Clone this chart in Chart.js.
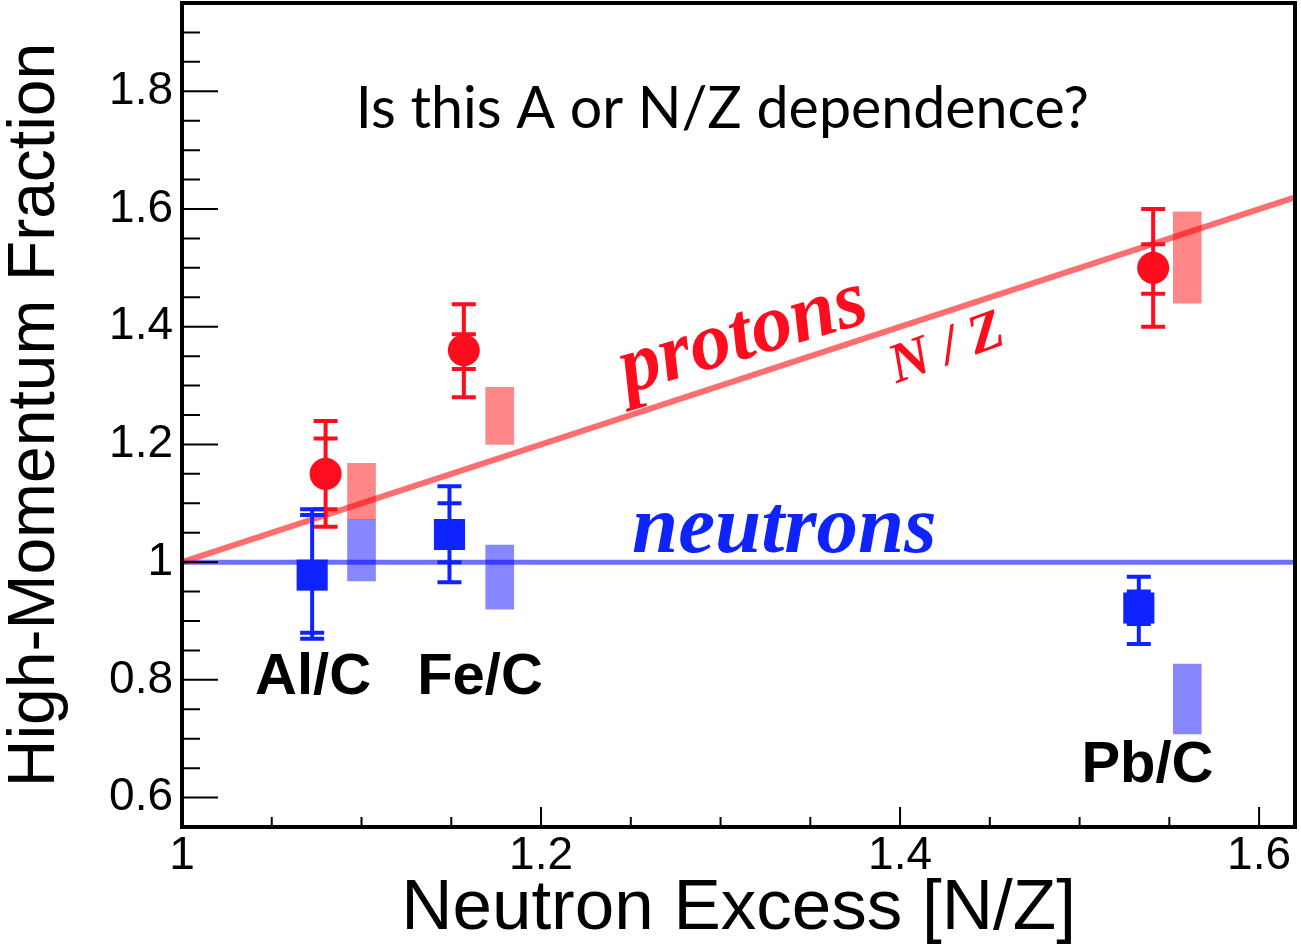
<!DOCTYPE html>
<html lang="en">
<head>
<meta charset="UTF-8">
<title>High-Momentum Fraction vs Neutron Excess</title>
<style>
  body { margin: 0; background: #fff; }
  .wrap { width: 1301px; height: 952px; position: relative; }
</style>
</head>
<body>
<div class="wrap"><canvas id="myChart"></canvas></div>
<script src="https://cdn.jsdelivr.net/npm/chart.js@4"></script>
<script>
// values
const targets = ['Al/C', 'Fe/C', 'Pb/C'];

const protonX = [1.080, 1.157, 1.541];
const protonY = [1.15, 1.36, 1.50];
const protonStatLo = [1.09, 1.328, 1.456];
const protonStatHi = [1.21, 1.387, 1.54];
const protonTotLo = [1.06, 1.28, 1.40];
const protonTotHi = [1.24, 1.438, 1.60];

const neutronX = [1.0725, 1.149, 1.533];
const neutronY = [0.978, 1.047, 0.922];
const neutronStatLo = [0.88, 1.0, 0.895];
const neutronStatHi = [1.08, 1.10, 0.95];
const neutronTotLo = [0.87, 0.966, 0.861];
const neutronTotHi = [1.09, 1.129, 0.975];

// systematic bands
const bandX = [1.10, 1.177, 1.560];
const protonSysLo = [1.072, 1.20, 1.44];
const protonSysHi = [1.168, 1.297, 1.595];
const neutronSysLo = [0.968, 0.92, 0.708];
const neutronSysHi = [1.072, 1.029, 0.827];

// reference lines: protons ~ N/Z, neutrons = 1
const refLineX = [1, 1.62];
const protonLineY = [1, 1.62];
const neutronLineY = [1, 1];

const xTicks = [1, 1.2, 1.4, 1.6];
const xMinor = [1.05, 1.1, 1.15, 1.25, 1.3, 1.35, 1.45, 1.5, 1.55];
const yTicks = [0.6, 0.8, 1, 1.2, 1.4, 1.6, 1.8];
const yMinor = [0.65, 0.7, 0.75, 0.85, 0.9, 0.95, 1.05, 1.1, 1.15, 1.25, 1.3, 1.35,
                1.45, 1.5, 1.55, 1.65, 1.7, 1.75, 1.85, 1.9];

const RED = '#ff0d1e';
const BLUE = '#0f23ff';
const SANS = '"Liberation Sans", Arial, sans-serif';
const SERIF = '"Liberation Serif", "Times New Roman", serif';

const pts = (xs, ys) => xs.map((v, i) => ({x: v, y: ys[i]}));
const bands = (lo, hi) => bandX.map((v, i) => ({x: v, y: [lo[i], hi[i]]}));

const extras = {
    id: 'extras',
    afterDatasetsDraw(chart) {
        const {ctx, scales: {x, y}} = chart;
        ctx.save();

        function errBars(xs, sLo, sHi, tLo, tHi, color) {
            ctx.strokeStyle = color;
            ctx.lineWidth = 4;
            xs.forEach((v, i) => {
                const px = x.getPixelForValue(v);
                ctx.beginPath();
                ctx.moveTo(px, y.getPixelForValue(tLo[i]));
                ctx.lineTo(px, y.getPixelForValue(tHi[i]));
                [sLo[i], sHi[i], tLo[i], tHi[i]].forEach(c => {
                    const py = y.getPixelForValue(c);
                    ctx.moveTo(px - 12, py);
                    ctx.lineTo(px + 12, py);
                });
                ctx.stroke();
            });
        }
        errBars(protonX, protonStatLo, protonStatHi, protonTotLo, protonTotHi, RED);
        errBars(neutronX, neutronStatLo, neutronStatHi, neutronTotLo, neutronTotHi, BLUE);

        function label(str, xv, yv, font, color, align, angle) {
            ctx.save();
            ctx.translate(x.getPixelForValue(xv), y.getPixelForValue(yv));
            ctx.rotate(angle || 0);
            ctx.font = font;
            ctx.fillStyle = color;
            ctx.textAlign = align;
            ctx.textBaseline = 'alphabetic';
            ctx.fillText(str, 0, 0);
            ctx.restore();
        }
        const slope = Math.atan2(y.getPixelForValue(protonLineY[1]) - y.getPixelForValue(protonLineY[0]),
                                 x.getPixelForValue(refLineX[1]) - x.getPixelForValue(refLineX[0]));
        label('protons', 1.316, 1.348, 'bold italic 82px ' + SERIF, RED, 'center', slope + 0.03);
        label('N / Z', 1.429, 1.338, 'bold italic 56px ' + SERIF, RED, 'center', slope - 0.03);
        label('neutrons', 1.2507, 1.017, 'bold italic 83px ' + SERIF, BLUE, 'left', 0);

        const tagPos = [[1.0407, 0.776], [1.131, 0.776], [1.501, 0.6265]];
        targets.forEach((t, i) => label(t, tagPos[i][0], tagPos[i][1], 'bold 58px ' + SANS, '#000', 'left', 0));

        // question at the top, fitted to its width in the figure
        const q = 'Is this A or N/Z dependence?';
        ctx.font = '58px Lato, "Open Sans", sans-serif';
        const w = ctx.measureText(q).width;
        ctx.save();
        ctx.translate(x.getPixelForValue(1.301), y.getPixelForValue(1.737));
        ctx.scale(733 / w, 1);
        ctx.fillStyle = '#000';
        ctx.textAlign = 'center';
        ctx.fillText(q, 0, 0);
        ctx.restore();

        ctx.restore();
    },
    afterDraw(chart) {
        const {ctx, chartArea: a, scales: {x, y}} = chart;
        ctx.save();
        ctx.strokeStyle = '#000';
        ctx.lineWidth = 2;
        ctx.beginPath();
        yTicks.forEach(v => { const py = y.getPixelForValue(v); ctx.moveTo(a.left, py); ctx.lineTo(a.left + 36, py); });
        yMinor.forEach(v => { const py = y.getPixelForValue(v); ctx.moveTo(a.left, py); ctx.lineTo(a.left + 18, py); });
        xTicks.forEach(v => { const px = x.getPixelForValue(v); ctx.moveTo(px, a.bottom); ctx.lineTo(px, a.bottom - 20); });
        xMinor.forEach(v => { const px = x.getPixelForValue(v); ctx.moveTo(px, a.bottom); ctx.lineTo(px, a.bottom - 10); });
        ctx.stroke();
        ctx.lineWidth = 4;
        ctx.strokeRect(a.left, a.top, a.right - a.left, a.bottom - a.top);
        ctx.restore();
    }
};

const fmt = v => String(+(+v).toFixed(2));

new Chart(document.getElementById('myChart'), {
    type: 'scatter',
    data: {
        datasets: [
            {type: 'bar', data: bands(protonSysLo, protonSysHi), backgroundColor: 'rgba(255,0,0,0.47)',
             barThickness: 28, grouped: false, order: 5},
            {type: 'bar', data: bands(neutronSysLo, neutronSysHi), backgroundColor: 'rgba(0,0,255,0.47)',
             barThickness: 28, grouped: false, order: 4},
            {type: 'line', data: pts(refLineX, protonLineY), borderColor: 'rgba(255,0,0,0.57)', borderWidth: 6,
             pointRadius: 0, fill: false, order: 3},
            {type: 'line', data: pts(refLineX, neutronLineY), borderColor: 'rgba(0,0,255,0.57)', borderWidth: 5,
             pointRadius: 0, fill: false, order: 3},
            {data: pts(protonX, protonY), pointStyle: 'circle', pointRadius: 16, backgroundColor: RED,
             borderWidth: 0, order: 1},
            {data: pts(neutronX, neutronY), pointStyle: 'rect', pointRadius: 22, backgroundColor: BLUE,
             borderWidth: 0, order: 1}
        ]
    },
    options: {
        responsive: true,
        maintainAspectRatio: false,
        animation: false,
        layout: {autoPadding: false, padding: {top: 3, right: 6, left: 0, bottom: 0}},
        plugins: {legend: {display: false}, tooltip: {enabled: false}},
        scales: {
            x: {
                type: 'linear', min: 1, max: 1.62, offset: false,
                afterBuildTicks: s => { s.ticks = xTicks.map(v => ({value: v})); },
                afterFit: s => { s.height = 125; s.paddingLeft = 0; s.paddingRight = 0; },
                grid: {display: false, drawTicks: false},
                border: {display: false},
                ticks: {callback: fmt, autoSkip: false, maxRotation: 0, padding: 6, color: '#000',
                        font: {family: SANS, size: 46, lineHeight: 1}},
                title: {display: true, text: 'Neutron Excess [N/Z]', color: '#000',
                        font: {family: SANS, size: 71, lineHeight: 1}, padding: {top: 0, bottom: 7}}
            },
            y: {
                type: 'linear', min: 0.55, max: 1.95,
                afterBuildTicks: s => { s.ticks = yTicks.map(v => ({value: v})); },
                afterFit: s => { s.width = 182; s.paddingTop = 0; s.paddingBottom = 0; },
                grid: {display: false, drawTicks: false},
                border: {display: false},
                ticks: {callback: fmt, autoSkip: false, padding: 9, color: '#000',
                        font: {family: SANS, size: 46, lineHeight: 1}},
                title: {display: true, text: 'High-Momentum Fraction', color: '#000',
                        font: {family: SANS, size: 66, lineHeight: 1}, padding: {top: 3, bottom: 0}}
            }
        }
    },
    plugins: [extras]
});
</script>
</body>
</html>
